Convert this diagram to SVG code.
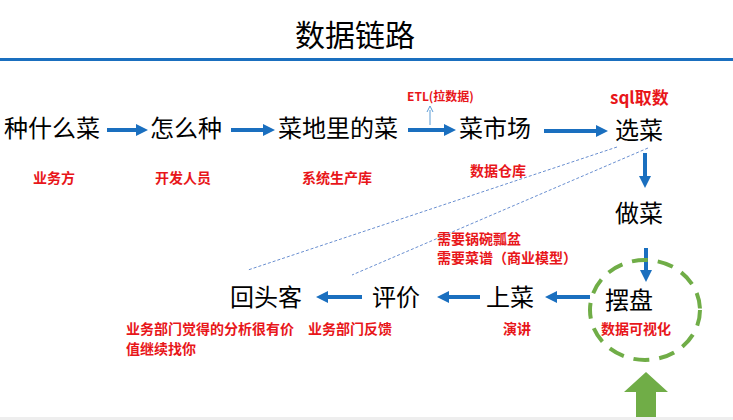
<svg xmlns="http://www.w3.org/2000/svg" width="733" height="420" viewBox="0 0 733 420">
<style>
.n{font-family:"Noto Sans CJK SC","Liberation Sans",sans-serif;font-size:24px;fill:#000}
.r{font-family:"Noto Sans CJK SC","Liberation Sans",sans-serif;font-size:14px;font-weight:bold;fill:#e8161a}
.a{stroke:#1a6fbf;stroke-width:4;fill:none;marker-end:url(#ah)}
</style>
<defs><marker id="ah" markerWidth="3" markerHeight="3" refX="1.5" refY="1.5" orient="auto"><path d="M0,0L3,1.5L0,3z" fill="#1a6fbf"/></marker></defs>
<rect width="733" height="420" fill="#fff"/>
<text x="355" y="46" text-anchor="middle" style="font-family:'Noto Sans CJK SC',sans-serif;font-size:30px">数据链路</text>
<rect x="0" y="58" width="733" height="3" fill="#1a6fbf"/>
<g id="connectors">
<line class="a" x1="107" y1="130" x2="142" y2="130"/>
<line class="a" x1="231" y1="130" x2="269" y2="130"/>
<line class="a" x1="408" y1="130" x2="450" y2="130"/>
<line class="a" x1="544" y1="131" x2="602" y2="131"/>
<line class="a" x1="645" y1="153" x2="645" y2="182"/>
<line class="a" x1="646" y1="248" x2="646" y2="276"/>
<line class="a" x1="590" y1="297" x2="551" y2="297"/>
<line class="a" x1="480" y1="297" x2="443" y2="297"/>
<line class="a" x1="362" y1="297" x2="322" y2="297"/>
<line x1="430" y1="125" x2="430" y2="110" stroke="#5b9bd5" stroke-width="1"/>
<path d="M427,112L430,106L433,112" fill="none" stroke="#5b9bd5" stroke-width="1"/>
<line x1="617" y1="147" x2="248" y2="270" stroke="#4472c4" stroke-width="0.8" stroke-dasharray="3,2"/>
<line x1="648" y1="148" x2="352" y2="275" stroke="#4472c4" stroke-width="0.8" stroke-dasharray="3,2"/>
</g>
<g id="n1"><text class="n" x="4" y="137">种什么菜</text><text class="r" x="33" y="183">业务方</text></g>
<g id="n2"><text class="n" x="150" y="137">怎么种</text><text class="r" x="155" y="183">开发人员</text></g>
<g id="n3"><text class="n" x="278" y="137">菜地里的菜</text><text class="r" x="302" y="183">系统生产库</text></g>
<g id="n4"><text class="n" x="459" y="137">菜市场</text><text class="r" x="470" y="176">数据仓库</text><text class="r" x="407" y="101" style="font-size:12px">ETL(拉数据)</text></g>
<g id="n5"><text class="n" x="615" y="139">选菜</text><text class="r" x="610" y="104" style="font-size:17px">sql取数</text></g>
<g id="n6"><text class="n" x="615" y="222">做菜</text><text class="r" x="437" y="244">需要锅碗瓢盆</text><text class="r" x="437" y="263">需要菜谱（商业模型）</text></g>
<g id="n7"><text class="n" x="605" y="309">摆盘</text><text class="r" x="601" y="334">数据可视化</text>
<ellipse cx="645" cy="310" rx="55" ry="50" fill="none" stroke="#70ad47" stroke-width="4" stroke-dasharray="16,10"/></g>
<g id="n8"><text class="n" x="486" y="306">上菜</text><text class="r" x="503" y="334">演讲</text></g>
<g id="n9"><text class="n" x="372" y="306">评价</text><text class="r" x="308" y="334">业务部门反馈</text></g>
<g id="n10"><text class="n" x="230" y="306">回头客</text><text class="r" x="126" y="334">业务部门觉得的分析很有价</text><text class="r" x="126" y="354">值继续找你</text></g>
<g id="up"><path d="M646,372L668,392L656,392L656,418L636,418L636,392L624,392z" fill="#70ad47"/></g>
<rect x="0" y="417" width="733" height="3" fill="#eee"/>
</svg>
